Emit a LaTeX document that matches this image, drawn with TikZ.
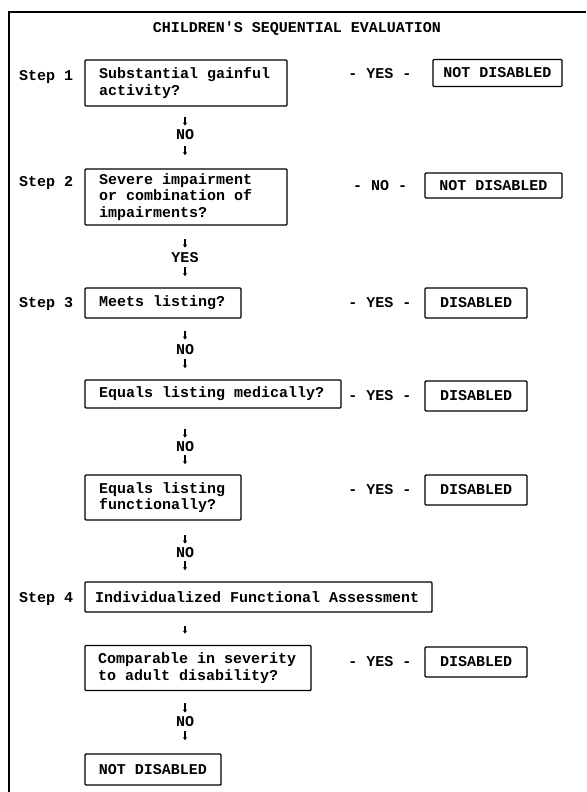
\documentclass[tikz,border=0pt]{standalone}
\usepackage{fontspec}
\setmonofont{Liberation Mono}
\usetikzlibrary{arrows.meta}

\begin{document}
\begin{tikzpicture}[x=1pt, y=-1pt,
        every node/.style={font=\fontsize{15}{16.5}\selectfont\ttfamily\bfseries, inner sep=0pt},
        block/.style={draw, line width=1.4pt, rounded corners=1pt, align=left, inner xsep=14pt,
            execute at begin node={\spaceskip=0.6em\relax}},
        outbox/.style={draw, line width=1.4pt, rounded corners=1pt, align=center, minimum height=27pt},
        down/.style={line width=1.8pt, -{Latex[length=3pt,width=4.5pt]}}
    ]
    \useasboundingbox (0,0) rectangle (586,792);
    \draw[line width=2pt] (9,792) -- (9,12) -- (586,12);

    \node (title) at (297,29) {CHILDREN'S SEQUENTIAL EVALUATION};

    \node[anchor=west] (s1) at (19,77) {Step 1};
    \node[anchor=west] (s2) at (19,183) {Step 2};
    \node[anchor=west] (s3) at (19,304) {Step 3};
    \node[anchor=west] (s4) at (19,599) {Step 4};

    \node[block, text width=174pt, minimum height=46pt] (sga) at (186,83) {Substantial gainful\\activity?};
    \node[block, text width=174pt, minimum height=56pt] (severe) at (186,197) {Severe impairment\\or combination of\\impairments?};
    \node[block, text width=128pt, minimum height=30pt] (meets) at (163,303) {Meets listing?};
    \node[block, text width=228pt, minimum height=28pt] (eqmed) at (213,394) {Equals listing medically?};
    \node[block, text width=128pt, minimum height=45pt] (eqfunc) at (163,497.5) {Equals listing\\functionally?};
    \node[block, inner xsep=10pt, text width=327pt, minimum height=30pt] (ifa) at (258.5,597) {Individualized Functional Assessment};
    \node[block, inner xsep=13pt, text width=200pt, minimum height=45pt] (comparable) at (198,668) {Comparable in severity\\to adult disability?};
    \node[outbox, minimum width=136pt, minimum height=31pt] (notdis) at (153,769.5) {NOT DISABLED};

    \node[outbox, minimum width=129pt] (nd1) at (497.5,73) {NOT DISABLED};
    \node[outbox, minimum width=137pt, minimum height=25pt] (nd2) at (493.5,185.5) {NOT DISABLED};
    \node[outbox, minimum width=102pt, minimum height=30pt] (dis3) at (476,303) {DISABLED};
    \node[outbox, minimum width=102pt, minimum height=30pt] (dis4) at (476,396) {DISABLED};
    \node[outbox, minimum width=102pt, minimum height=30pt] (dis5) at (476,490) {DISABLED};
    \node[outbox, minimum width=102pt, minimum height=30pt] (dis7) at (476,662) {DISABLED};

    \node (yes1) at (380,74) {- YES -};
    \node (no2) at (380,186) {- NO -};
    \node (yes3) at (380,303) {- YES -};
    \node (yes4) at (380,396) {- YES -};
    \node (yes5) at (380,490) {- YES -};
    \node (yes7) at (380,662) {- YES -};

    \node (n1) at (185,135) {NO};
    \node (y2) at (185,258) {YES};
    \node (n3) at (185,350) {NO};
    \node (n4) at (185,447) {NO};
    \node (n5) at (185,553) {NO};
    \node (n7) at (185,722) {NO};

    \draw[down, shorten <=10pt, shorten >=4pt] (sga.south -| n1) -- (n1);
    \draw[down, shorten <=6pt, shorten >=13pt] (n1) -- (severe.north -| n1);
    \draw[down, shorten <=13pt, shorten >=5pt] (severe.south -| y2) -- (y2);
    \draw[down, shorten <=4pt, shorten >=11pt] (y2) -- (meets.north -| y2);
    \draw[down, shorten <=12pt, shorten >=5pt] (meets.south -| n3) -- (n3);
    \draw[down, shorten <=4pt, shorten >=11pt] (n3) -- (eqmed.north -| n3);
    \draw[down, shorten <=20pt, shorten >=4pt] (eqmed.south -| n4) -- (n4);
    \draw[down, shorten <=3pt, shorten >=10pt] (n4) -- (eqfunc.north -| n4);
    \draw[down, shorten <=14pt, shorten >=4pt] (eqfunc.south -| n5) -- (n5);
    \draw[down, shorten <=3pt, shorten >=11pt] (n5) -- (ifa.north -| n5);
    \draw[down, shorten <=13pt, shorten >=11pt] (ifa.south -| n5) -- (comparable.north -| n5);
    \draw[down, shorten <=12pt, shorten >=4pt] (comparable.south -| n7) -- (n7);
    \draw[down, shorten <=4pt, shorten >=13pt] (n7) -- (notdis.north -| n7);
\end{tikzpicture}
\end{document}
